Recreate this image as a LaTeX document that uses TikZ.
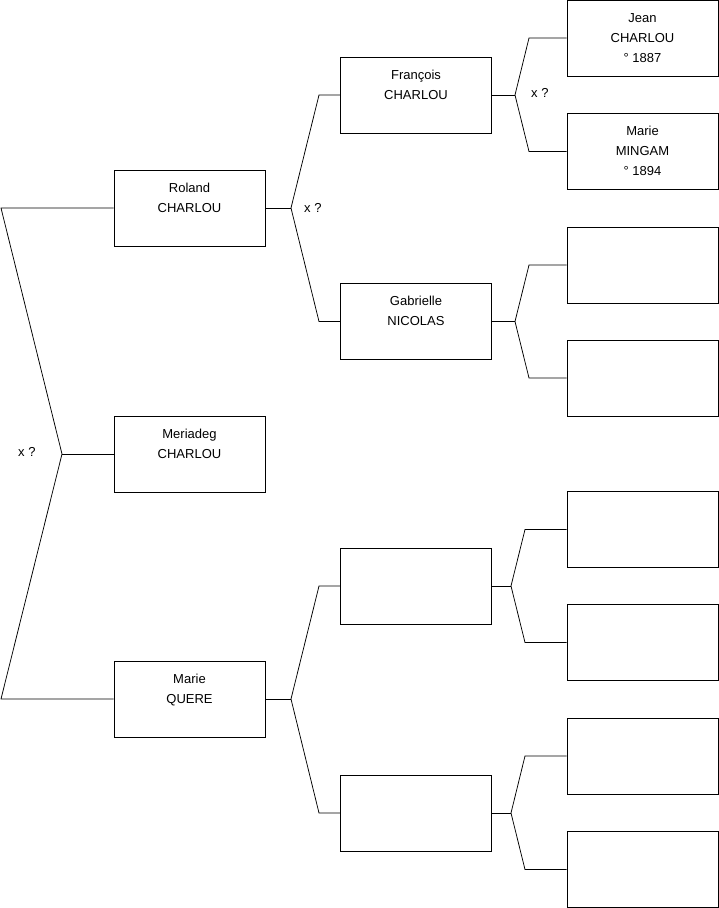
\documentclass[tikz,border=0pt]{standalone}
\usepackage{fontspec}
\setmainfont{Liberation Sans}
\begin{document}
\begin{tikzpicture}[x=1pt,y=-1pt,
  pbox/.style={draw=black,line width=0.85pt,rectangle,minimum width=151pt,minimum height=76pt,inner sep=0pt},
  ptext/.style={anchor=base,inner sep=0pt,font=\fontsize{13pt}{15pt}\selectfont},
  mlabel/.style={anchor=base west,inner sep=0pt,font=\fontsize{13pt}{15pt}\selectfont},
  link/.style={draw=black,line width=0.75pt,line join=miter}]
\useasboundingbox (0,0) rectangle (719,908);
% column 1
\node[pbox] (roland) at (189.5,208) {};
\node[pbox] (meriadeg) at (189.5,454) {};
\node[pbox] (quere) at (189.5,699) {};
% column 2
\node[pbox] (francois) at (416,95) {};
\node[pbox] (gabrielle) at (416,321.5) {};
\node[pbox] (e1) at (416,586) {};
\node[pbox] (e2) at (416,813) {};
% column 3
\node[pbox] (jean) at (642.5,38) {};
\node[pbox] (mingam) at (642.5,151.5) {};
\node[pbox] (g1) at (642.5,265) {};
\node[pbox] (g2) at (642.5,378) {};
\node[pbox] (g3) at (642.5,529.5) {};
\node[pbox] (g4) at (642.5,642.5) {};
\node[pbox] (g5) at (642.5,756) {};
\node[pbox] (g6) at (642.5,869.5) {};
% texts
\node[ptext] (roland-a) at ([yshift=-22.5pt]roland.north) {Roland};
\node[ptext] (roland-b) at ([yshift=-42.5pt]roland.north) {CHARLOU};
\node[ptext] (meriadeg-a) at ([yshift=-22.5pt]meriadeg.north) {Meriadeg};
\node[ptext] (meriadeg-b) at ([yshift=-42.5pt]meriadeg.north) {CHARLOU};
\node[ptext] (quere-a) at ([yshift=-22.5pt]quere.north) {Marie};
\node[ptext] (quere-b) at ([yshift=-42.5pt]quere.north) {QUERE};
\node[ptext] (francois-a) at ([yshift=-22.5pt]francois.north) {François};
\node[ptext] (francois-b) at ([yshift=-42.5pt]francois.north) {CHARLOU};
\node[ptext] (gabrielle-a) at ([yshift=-22.5pt]gabrielle.north) {Gabrielle};
\node[ptext] (gabrielle-b) at ([yshift=-42.5pt]gabrielle.north) {NICOLAS};
\node[ptext] (jean-a) at ([yshift=-22.5pt]jean.north) {Jean};
\node[ptext] (jean-b) at ([yshift=-42.5pt]jean.north) {CHARLOU};
\node[ptext] (jean-c) at ([yshift=-62.5pt]jean.north) {° 1887};
\node[ptext] (mingam-a) at ([yshift=-22.5pt]mingam.north) {Marie};
\node[ptext] (mingam-b) at ([yshift=-42.5pt]mingam.north) {MINGAM};
\node[ptext] (mingam-c) at ([yshift=-62.5pt]mingam.north) {° 1894};
% connector points
\coordinate (a0) at (1,208); \coordinate (a1) at (62,454); \coordinate (a2) at (1,699);
\coordinate (b0) at (291,208); \coordinate (b1) at (319,95); \coordinate (b2) at (319,321.5);
\coordinate (c0) at (515,95); \coordinate (c1) at (529,38); \coordinate (c2) at (529,151.5);
\coordinate (d0) at (515,321.5); \coordinate (d1) at (529,265); \coordinate (d2) at (529,378);
\coordinate (h0) at (291,699); \coordinate (h1) at (319,586); \coordinate (h2) at (319,813);
\coordinate (f0) at (511,586); \coordinate (f1) at (525,529.5); \coordinate (f2) at (525,642.5);
\coordinate (k0) at (511,813); \coordinate (k1) at (525,756); \coordinate (k2) at (525,869.5);
% connectors
\draw[link] (roland.west) -- (a0) -- (a1) -- (a2) -- (quere.west);
\draw[link] (a1) -- (meriadeg.west);
\draw[link] (roland.east) -- (b0);
\draw[link] (francois.west) -- (b1) -- (b0) -- (b2) -- (gabrielle.west);
\draw[link] (francois.east) -- (c0);
\draw[link] (jean.west) -- (c1) -- (c0) -- (c2) -- (mingam.west);
\draw[link] (gabrielle.east) -- (d0);
\draw[link] (g1.west) -- (d1) -- (d0) -- (d2) -- (g2.west);
\draw[link] (quere.east) -- (h0);
\draw[link] (e1.west) -- (h1) -- (h0) -- (h2) -- (e2.west);
\draw[link] (e1.east) -- (f0);
\draw[link] (g3.west) -- (f1) -- (f0) -- (f2) -- (g4.west);
\draw[link] (e2.east) -- (k0);
\draw[link] (g5.west) -- (k1) -- (k0) -- (k2) -- (g6.west);
% marriage labels
\node[mlabel] (m1) at (18,456) {x ?};
\node[mlabel] (m2) at (304,212) {x ?};
\node[mlabel] (m3) at (531,97) {x ?};
\end{tikzpicture}
\end{document}
